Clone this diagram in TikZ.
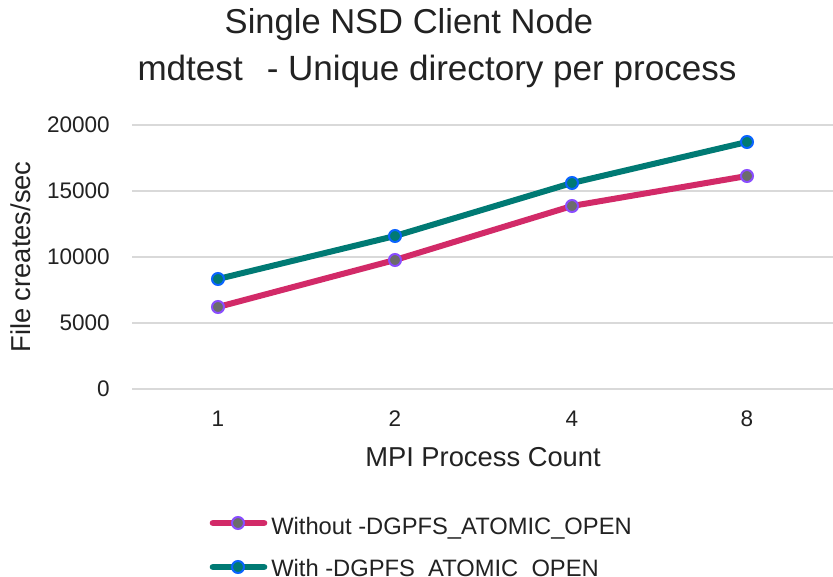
\documentclass[tikz,border=0pt]{standalone}
\usepackage{fontspec}
\setmainfont{Liberation Sans}
\definecolor{txt}{HTML}{222222}
\definecolor{gridc}{HTML}{D9D9D9}
\definecolor{pinkline}{HTML}{D22A68}
\definecolor{tealline}{HTML}{007A74}
\definecolor{mkgray}{HTML}{6C6C6C}
\definecolor{mkpurple}{HTML}{8A4DFF}
\definecolor{mkblue}{HTML}{0A64FF}
\tikzset{
  gridline/.style={gridc, line width=1.5pt},
  ticklab/.style={text=txt, inner sep=0pt, font=\fontsize{16.9}{18}\selectfont},
  axtitle/.style={text=txt, inner sep=0pt, font=\fontsize{20.5}{22}\selectfont},
  titletext/.style={text=txt, inner sep=0pt, font=\fontsize{25.9}{28}\selectfont},
  legtext/.style={text=txt, inner sep=0pt, font=\fontsize{17.8}{19}\selectfont},
  series/.style={line width=4.5pt, line join=round},
  serieswo/.style={series, pinkline},
  serieswi/.style={series, tealline},
  mkwo/.style={circle, draw=mkpurple, fill=mkgray, line width=1.5pt, minimum size=9pt, inner sep=0pt},
  mkwi/.style={circle, draw=mkblue, fill=tealline, line width=1.5pt, minimum size=9pt, inner sep=0pt},
  legline/.style={line width=5pt, line cap=round},
}
\begin{document}
\begin{tikzpicture}[x=0.75pt, y=-0.75pt]
\useasboundingbox (0,0) rectangle (833,577);
\clip (0,0) rectangle (833,577);
\fill[white] (0,0) rectangle (833,577);

% title
\node[titletext, anchor=base] (t1) at (409,34) {Single NSD Client Node};
\node[titletext, anchor=base, font=\fontsize{26.3}{28}\selectfont] (t2) at (437,81)
  {mdtest\hspace{18pt}- Unique directory per process};

% horizontal grid and value labels
\foreach \v/\gy in {0/389, 5000/323, 10000/257, 15000/191, 20000/125} {
  \draw[gridline] (132,\gy) -- (833,\gy);
  \node[ticklab, anchor=base east] (y\v) at (110,\gy+8) {\v};
}

% category labels
\node[ticklab, anchor=base] (x1) at (218,427) {1};
\node[ticklab, anchor=base] (x2) at (395,427) {2};
\node[ticklab, anchor=base] (x4) at (572,427) {4};
\node[ticklab, anchor=base] (x8) at (747,427) {8};

% axis titles
\node[axtitle, anchor=base] (xt) at (483,467) {MPI Process Count};
\node[axtitle, anchor=base, rotate=90] (yt) at (31,257) {File creates/sec};

% data points
\coordinate (a1) at (218,307);
\coordinate (a2) at (395,260);
\coordinate (a4) at (572,206);
\coordinate (a8) at (747,176);
\coordinate (b1) at (218,279);
\coordinate (b2) at (395,236);
\coordinate (b4) at (572,183);
\coordinate (b8) at (747,142);

\draw[serieswo] (a1) -- (a2) -- (a4) -- (a8);
\draw[serieswi] (b1) -- (b2) -- (b4) -- (b8);
\foreach \p in {a1,a2,a4,a8} \node[mkwo] (m\p) at (\p) {};
\foreach \p in {b1,b2,b4,b8} \node[mkwi] (m\p) at (\p) {};

% legend
\coordinate (la0) at (213,523);
\coordinate (la1) at (264,523);
\coordinate (lb0) at (213,567);
\coordinate (lb1) at (264,567);
\draw[legline, pinkline] (la0) -- (la1);
\node[mkwo] (lma) at (238,523) {};
\node[legtext, anchor=base west] (la) at (271,535) {Without -DGPFS\_ATOMIC\_OPEN};
\draw[legline, tealline] (lb0) -- (lb1);
\node[mkwi] (lmb) at (238,567) {};
\node[legtext, anchor=base west] (lb) at (271,576.5) {With -DGPFS\_ATOMIC\_OPEN};
\end{tikzpicture}
\end{document}
